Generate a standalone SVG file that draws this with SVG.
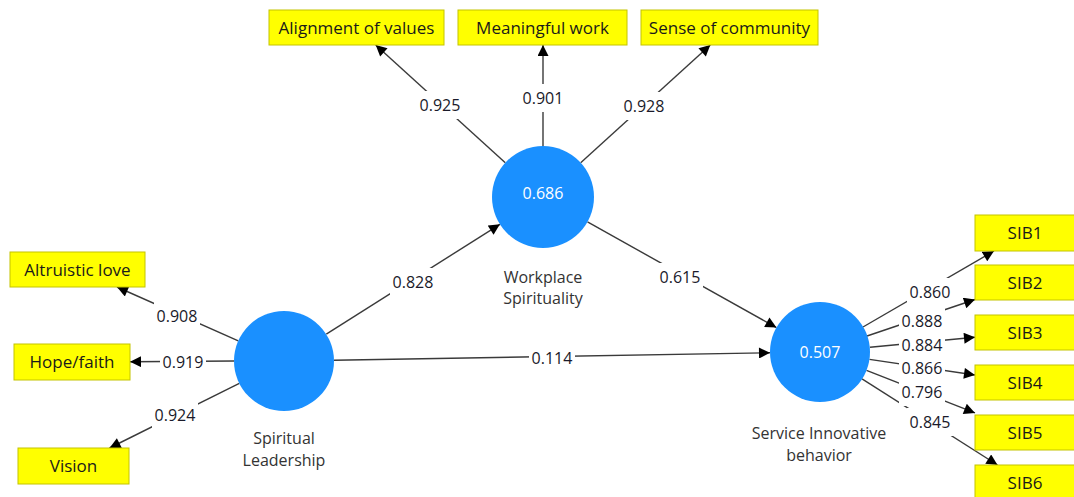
<svg xmlns="http://www.w3.org/2000/svg" width="1074" height="497" viewBox="0 0 1074 497">
<defs>
<marker id="arr" viewBox="0 0 10 10" refX="10" refY="5" markerWidth="12" markerHeight="11" markerUnits="userSpaceOnUse" orient="auto"><path d="M0,0 L10,5 L0,10 z" fill="#000"/></marker>
<style>
.ln{stroke:#3a3a3a;stroke-width:1.4;fill:none;marker-end:url(#arr)}
.bg{fill:#fff}
.lbl{font-family:"Open Sans","Noto Sans",sans-serif;font-size:16px;fill:#1a1a2a;text-anchor:middle}
.box{fill:#ffff00;stroke:#c4c400;stroke-width:1}
.bt{font-family:"Open Sans","Noto Sans",sans-serif;font-size:17px;fill:#1a1a1a;text-anchor:middle}
.cir{fill:#1a90ff}
.ct{font-family:"Open Sans","Noto Sans",sans-serif;font-size:16px;fill:#ffffff;text-anchor:middle}
.nt{font-family:"Open Sans","Noto Sans",sans-serif;font-size:16px;fill:#333333;text-anchor:middle}
</style>
</defs>
<rect width="1074" height="497" fill="#fff"/>
<g id="connectors">
<line class="ln" x1="505.3" y1="162.7" x2="375.7" y2="45"/>
<line class="ln" x1="543" y1="146" x2="543" y2="45"/>
<line class="ln" x1="580.7" y1="162.7" x2="710.3" y2="45"/>
<line class="ln" x1="326.3" y1="334.2" x2="499.9" y2="224.3"/>
<line class="ln" x1="587.5" y1="221.9" x2="776.4" y2="327.6"/>
<line class="ln" x1="334" y1="360.2" x2="770" y2="352.8"/>
<line class="ln" x1="238.3" y1="340.8" x2="117" y2="287"/>
<line class="ln" x1="234" y1="361" x2="130" y2="361.7"/>
<line class="ln" x1="239.3" y1="383.3" x2="109.5" y2="448"/>
<line class="ln" x1="863" y1="327" x2="994" y2="251"/>
<line class="ln" x1="867" y1="336" x2="975" y2="299.5"/>
<line class="ln" x1="870" y1="347.3" x2="975" y2="337.3"/>
<line class="ln" x1="869.5" y1="359.4" x2="975" y2="375"/>
<line class="ln" x1="866.5" y1="370.3" x2="975" y2="412.9"/>
<line class="ln" x1="862" y1="378.9" x2="997.5" y2="465"/>
<g id="label-bgs">
<rect class="bg" x="417" y="91" width="46" height="28"/>
<rect class="bg" x="520" y="84" width="46" height="28"/>
<rect class="bg" x="621" y="92" width="46" height="28"/>
<rect class="bg" x="390" y="268" width="46" height="28"/>
<rect class="bg" x="657" y="263" width="46" height="28"/>
<rect class="bg" x="529" y="344" width="46" height="28"/>
<rect class="bg" x="154" y="302" width="46" height="28"/>
<rect class="bg" x="160" y="348" width="46" height="28"/>
<rect class="bg" x="152" y="401" width="46" height="28"/>
<rect class="bg" x="907" y="278" width="46" height="28"/>
<rect class="bg" x="899" y="307" width="46" height="28"/>
<rect class="bg" x="899" y="331" width="46" height="28"/>
<rect class="bg" x="899" y="354" width="46" height="28"/>
<rect class="bg" x="899" y="378" width="46" height="28"/>
<rect class="bg" x="907" y="408" width="46" height="28"/>
</g>
<text class="lbl" x="440" y="111">0.925</text>
<text class="lbl" x="543" y="104">0.901</text>
<text class="lbl" x="644" y="112">0.928</text>
<text class="lbl" x="413" y="288">0.828</text>
<text class="lbl" x="680" y="283">0.615</text>
<text class="lbl" x="552" y="364">0.114</text>
<text class="lbl" x="177" y="322">0.908</text>
<text class="lbl" x="183" y="368">0.919</text>
<text class="lbl" x="175" y="421">0.924</text>
<text class="lbl" x="930" y="298">0.860</text>
<text class="lbl" x="922" y="327">0.888</text>
<text class="lbl" x="922" y="351">0.884</text>
<text class="lbl" x="922" y="374">0.866</text>
<text class="lbl" x="922" y="398">0.796</text>
<text class="lbl" x="930" y="428">0.845</text>
</g>
<g id="ws">
<circle class="cir" cx="543" cy="197" r="51"/>
<text class="ct" x="543" y="199">0.686</text>
<text class="nt" x="543" y="283">Workplace</text>
<text class="nt" x="543" y="304">Spirituality</text>
</g>
<g id="sl">
<circle class="cir" cx="284" cy="361" r="50"/>
<text class="nt" x="284" y="444">Spiritual</text>
<text class="nt" x="284" y="466">Leadership</text>
</g>
<g id="sib">
<circle class="cir" cx="820" cy="352" r="50"/>
<text class="ct" x="820" y="358">0.507</text>
<text class="nt" x="819" y="439">Service Innovative</text>
<text class="nt" x="819" y="461">behavior</text>
</g>
<g id="align"><rect class="box" x="269" y="10" width="175" height="35"/><text class="bt" x="356.5" y="34">Alignment of values</text></g>
<g id="meaning"><rect class="box" x="458" y="10" width="169" height="35"/><text class="bt" x="542.5" y="34">Meaningful work</text></g>
<g id="sense"><rect class="box" x="641" y="10" width="177" height="35"/><text class="bt" x="729.5" y="34">Sense of community</text></g>
<g id="altruistic"><rect class="box" x="10" y="252" width="135" height="35"/><text class="bt" x="77.5" y="276">Altruistic love</text></g>
<g id="hope"><rect class="box" x="14" y="344" width="116" height="36"/><text class="bt" x="72" y="368">Hope/faith</text></g>
<g id="vision"><rect class="box" x="18" y="448" width="111" height="36"/><text class="bt" x="73.5" y="472">Vision</text></g>
<g id="sib1"><rect class="box" x="975" y="215" width="100" height="36"/><text class="bt" x="1025" y="239">SIB1</text></g>
<g id="sib2"><rect class="box" x="975" y="265" width="100" height="35"/><text class="bt" x="1025" y="289">SIB2</text></g>
<g id="sib3"><rect class="box" x="975" y="315" width="100" height="35"/><text class="bt" x="1025" y="339">SIB3</text></g>
<g id="sib4"><rect class="box" x="975" y="365" width="100" height="35"/><text class="bt" x="1025" y="389">SIB4</text></g>
<g id="sib5"><rect class="box" x="975" y="415" width="100" height="35"/><text class="bt" x="1025" y="439">SIB5</text></g>
<g id="sib6"><rect class="box" x="975" y="465" width="100" height="35"/><text class="bt" x="1025" y="489">SIB6</text></g>
</svg>
